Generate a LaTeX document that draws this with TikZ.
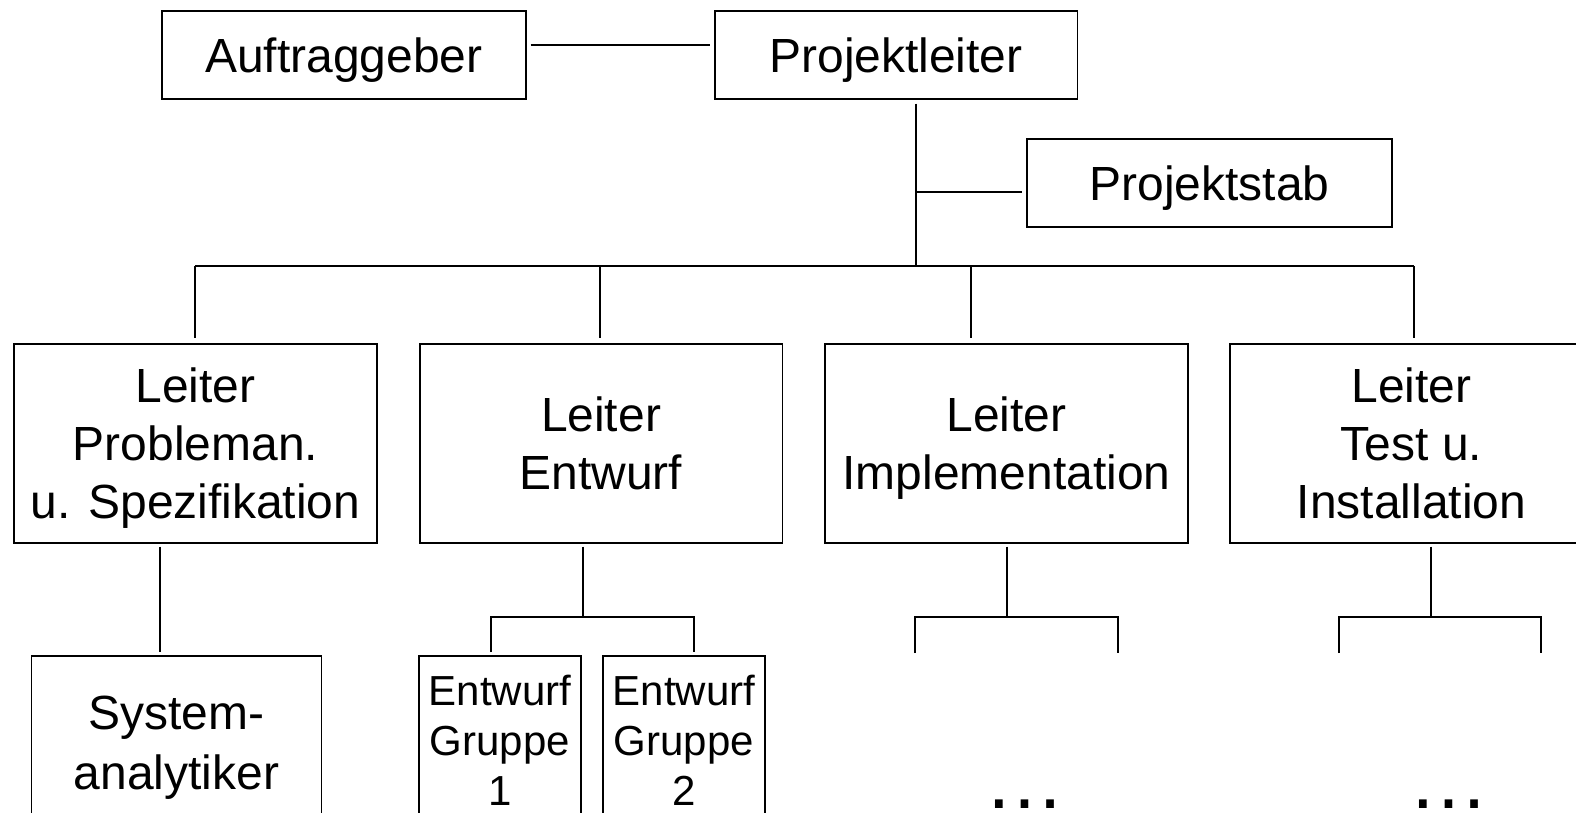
\documentclass[tikz,border=0pt]{standalone}
\usepackage{fontspec}
\setmainfont{Liberation Sans}
\newcommand{\nodesc}[1]{\raisebox{0pt}[\height][0pt]{#1}}
\begin{document}
\begin{tikzpicture}[x=0.02cm, y=-0.02cm,
  box/.style={draw, line width=1.1pt, inner sep=0pt, align=center,
    font=\fontsize{27.3}{33}\selectfont},
  leiter/.style={box, minimum width=7.26cm, minimum height=3.98cm},
  gruppe/.style={box, minimum width=3.24cm, minimum height=3.36cm,
    font=\fontsize{23.9}{28.5}\selectfont},
  dots/.style={inner sep=0pt, anchor=base, font=\fontsize{46}{50}\selectfont},
  link/.style={line width=1.1pt}]
  \useasboundingbox (0,0) rectangle (1576,812);
  \clip (0,0) rectangle (1576,812);
  \node[box, minimum width=7.28cm, minimum height=1.75cm] (auftraggeber) at (343.7,54.8) {\nodesc{Auftraggeber}};
  \node[box, minimum width=7.26cm, minimum height=1.75cm] (projektleiter) at (896,54.8) {\nodesc{Projektleiter}};
  \node[box, minimum width=7.3cm, minimum height=1.76cm] (projektstab) at (1209.5,183) {\nodesc{Projektstab}};
  \node[leiter] (probleman) at (195.5,443.2) {Leiter\\Probleman.\\\nodesc{u. Spezifikation}};
  \node[leiter] (entwurf) at (601,443.2) {Leiter\\Entwurf};
  \node[leiter] (impl) at (1006.5,443.2) {Leiter\\\nodesc{Implementation}};
  \node[leiter] (test) at (1411.6,443.2) {Leiter\\Test u.\\Installation};
  \node[box, minimum width=5.8cm, minimum height=3.68cm, font=\fontsize{27.3}{34}\selectfont] (sysana) at (176.5,748) {System-\\analytiker};
  \node[gruppe] (gruppe1) at (500,740) {Entwurf\\Gruppe\\1};
  \node[gruppe] (gruppe2) at (684,740) {Entwurf\\Gruppe\\2};
  \node[dots] (implmore) at (1024.5,808) {…};
  \node[dots] (testmore) at (1449,808) {…};
  \coordinate (hub) at (915.6,266.3);
  \draw[link, shorten <=0.08cm, shorten >=0.08cm] (auftraggeber.east |- 0,45) -- (projektleiter.west |- 0,45);
  \draw[link, shorten <=0.08cm] (projektleiter.south -| hub) -- (hub);
  \draw[link, shorten >=0.08cm] (hub |- 0,192) -- (projektstab.west |- 0,192);
  \draw[link] (195,266.3) -- (1414,266.3);
  \foreach \n/\x in {probleman/195, entwurf/600, impl/971, test/1414}
    \draw[link, shorten >=0.1cm] (\x,266.3) -- (\n.north -| \x,0);
  \draw[link, shorten <=0.06cm, shorten >=0.06cm] (probleman.south -| 159.7,0) -- (sysana.north -| 159.7,0);
  \draw[link, shorten <=0.06cm] (entwurf.south -| 583,0) -- (583,616.7);
  \draw[link, shorten <=0.06cm, shorten >=0.06cm] (gruppe1.north -| 491,0) |- (583,616.7) -| (gruppe2.north -| 694,0);
  \foreach \n/\s/\l/\r in {impl/1007/915/1118, test/1431/1339/1541} {
    \coordinate (\n-l) at (\l,653);
    \coordinate (\n-r) at (\r,653);
    \draw[link, shorten <=0.06cm] (\n.south -| \s,0) -- (\s,616.7);
    \draw[link] (\n-l) |- (\s,616.7) -| (\n-r);
  }
\end{tikzpicture}
\end{document}
